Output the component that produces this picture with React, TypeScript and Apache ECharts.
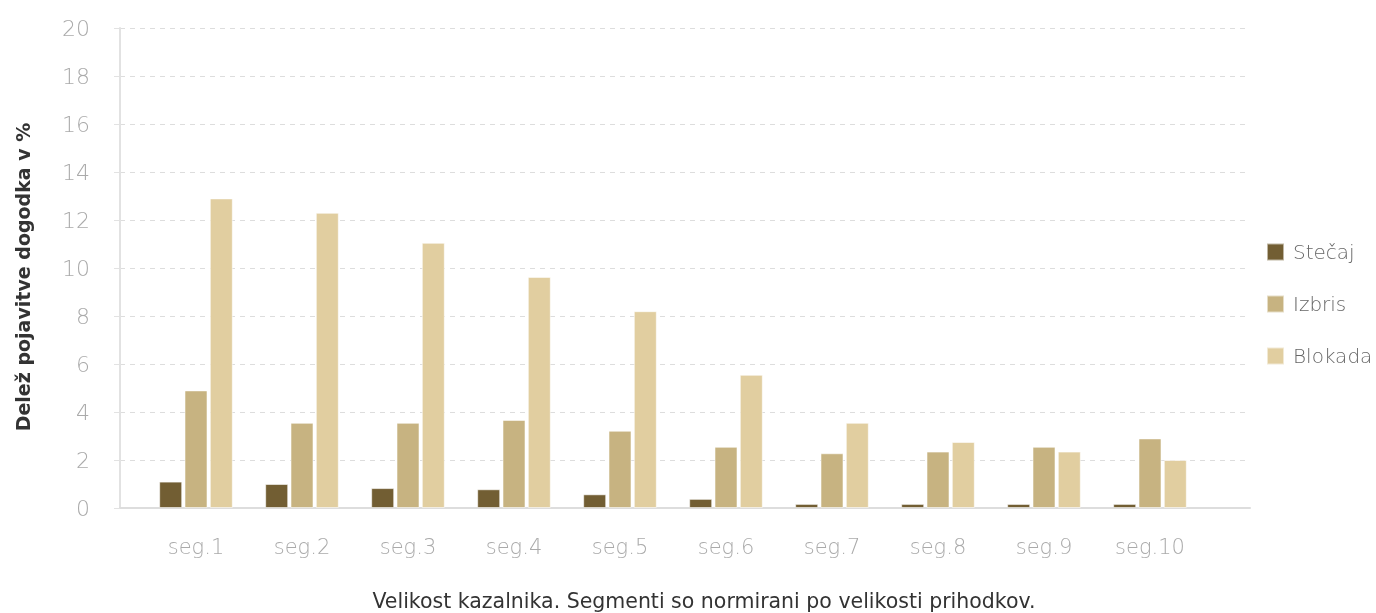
import React, { useEffect, useRef } from "react";
import * as echarts from "echarts";

const categories = ["seg.1", "seg.2", "seg.3", "seg.4", "seg.5", "seg.6", "seg.7", "seg.8", "seg.9", "seg.10"];
const stecaj = [1.1, 1.0, 0.83, 0.78, 0.57, 0.38, 0.17, 0.17, 0.17, 0.17];
const izbris = [4.9, 3.55, 3.55, 3.67, 3.22, 2.55, 2.28, 2.35, 2.55, 2.9];
const blokada = [12.9, 12.3, 11.05, 9.63, 8.2, 5.55, 3.55, 2.75, 2.35, 2.0];
const seriesNames = ["Stečaj", "Izbris", "Blokada"];
const colors = ["#725e33", "#c7b381", "#e1cea0"];
const yTitle = "Delež pojavitve dogodka v %";
const xTitle = "Velikost kazalnika. Segmenti so normirani po velikosti prihodkov.";

export default function App() {
  const ref = useRef<HTMLDivElement>(null);
  useEffect(() => {
    if (!ref.current) return;
    const chart = echarts.init(ref.current, null, { renderer: "svg" });
    const font = "DejaVu Sans";
    const dataSets = [stecaj, izbris, blokada];
    chart.setOption({
      animation: false,
      textStyle: { fontFamily: font },
      grid: [
        { left: 120, right: 126, top: 28, bottom: 105 },
        { left: 143, right: 173, top: 28, bottom: 105 },
      ],
      legend: {
        orient: "vertical",
        left: 1261,
        top: 237,
        itemWidth: 17,
        itemHeight: 17,
        itemGap: 32,
        icon: "rect",
        data: seriesNames,
        textStyle: { fontFamily: font, fontSize: 20, color: "#666", fontWeight: 300, padding: [0, 0, 0, 4] },
      },
      xAxis: [
        {
          gridIndex: 0,
          type: "category",
          data: categories,
          axisLine: { show: true, lineStyle: { color: "#dddddd", width: 2 } },
          axisTick: { show: false },
          axisLabel: { show: false },
        },
        {
          gridIndex: 1,
          type: "category",
          data: categories,
          axisLine: { show: false },
          axisTick: { show: false },
          axisLabel: { color: "#aaaaaa", fontSize: 21, fontWeight: 300, margin: 28, fontFamily: font },
        },
      ],
      yAxis: [
        {
          gridIndex: 0,
          type: "value",
          min: 0,
          max: 20,
          interval: 2,
          axisLine: { show: true, lineStyle: { color: "#e2e2e2", width: 2 } },
          axisTick: { show: true, length: 6, lineStyle: { color: "#e2e2e2" } },
          axisLabel: { color: "#aaaaaa", fontSize: 22, fontWeight: 300, margin: 30, fontFamily: font },
          splitLine: { show: true, lineStyle: { color: "#dddddd", type: [5, 5], width: 1 } },
        },
        {
          gridIndex: 1,
          type: "value",
          min: 0,
          max: 20,
          interval: 2,
          show: false,
          splitLine: { show: false },
        },
      ],
      series: dataSets.map((d, i) => ({
        name: seriesNames[i],
        type: "bar",
        xAxisIndex: 1,
        yAxisIndex: 1,
        data: d,
        barWidth: 23,
        barGap: "10%",
        itemStyle: { color: colors[i], borderColor: "rgba(255,255,255,0.55)", borderWidth: 1 },
      })),
      graphic: [
        {
          type: "text",
          x: 23,
          y: 277,
          rotation: Math.PI / 2,
          style: {
            text: yTitle,
            fontFamily: font,
            fontSize: 19,
            fontWeight: "bold",
            fill: "#333",
            align: "center",
            verticalAlign: "middle",
          },
        },
        {
          type: "text",
          x: 704,
          y: 601,
          style: {
            text: xTitle,
            fontFamily: font,
            fontSize: 20.5,
            fill: "#333",
            fontWeight: 500,
            align: "center",
            verticalAlign: "middle",
          },
        },
      ],
    });
    return () => chart.dispose();
  }, []);
  return <div ref={ref} style={{ position: "fixed", left: 0, top: 0, width: 1376, height: 613 }} />;
}
